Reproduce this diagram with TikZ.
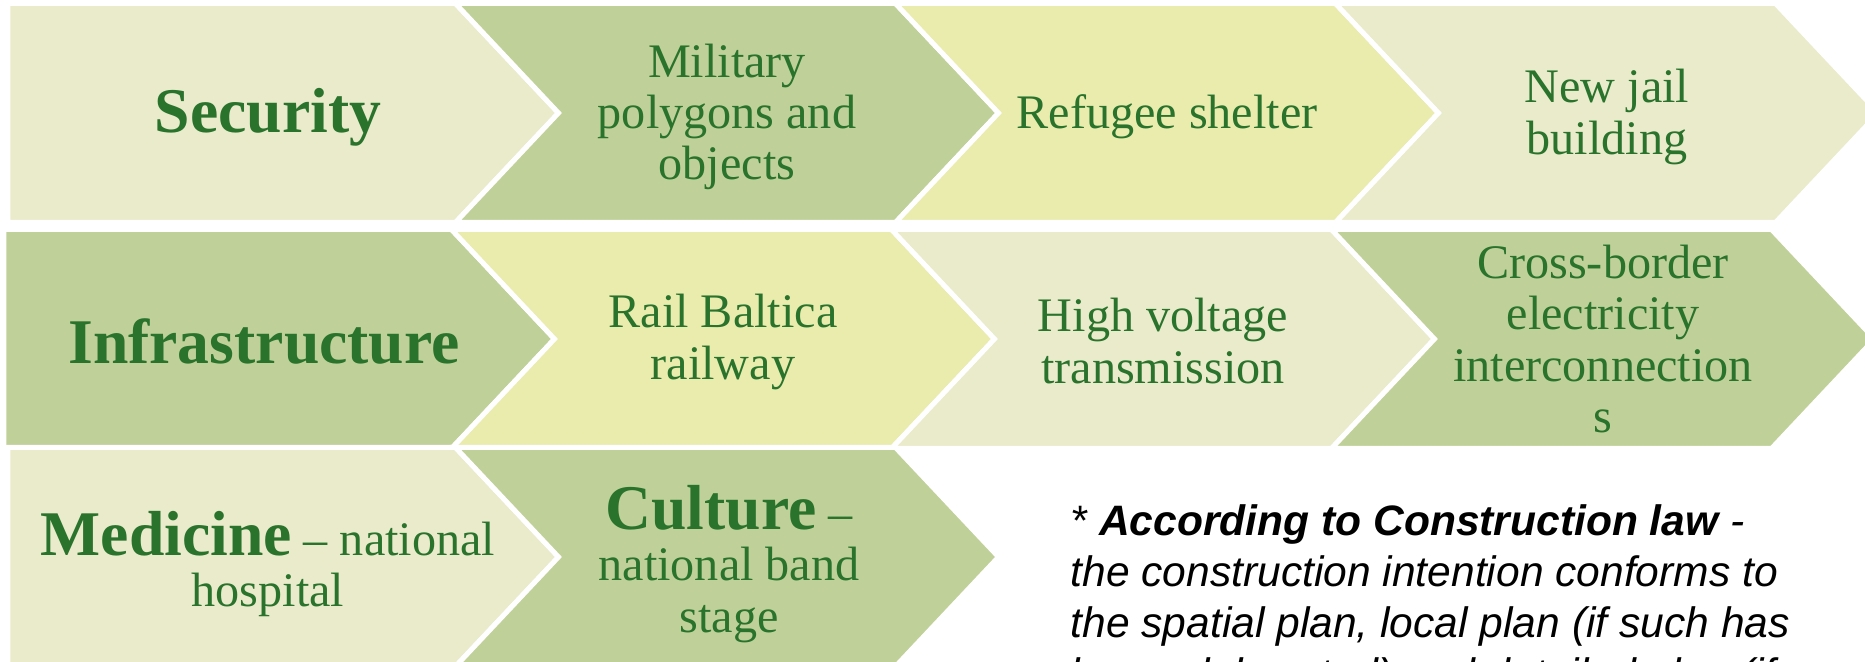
\documentclass[tikz,border=0pt]{standalone}
\usepackage{fontspec}
\setmainfont{Liberation Serif}
\newfontfamily\notefont{Liberation Sans}

\definecolor{paleleaf}{RGB}{234,235,202}
\definecolor{midleaf}{RGB}{191,209,153}
\definecolor{paleyellow}{RGB}{233,236,173}
\definecolor{leaftext}{RGB}{42,115,45}

\newcommand{\headword}[1]{{\fontsize{18.1pt}{19pt}\selectfont\bfseries #1}}

\tikzset{
  plate/.style={insert path={-- ++(447.5,0) -- ++(103,109.5) -- ++(-103,109.5) -- ++(-447.5,0) -- cycle}},
  chev/.style={insert path={-- ++(440,0) -- ++(103,109.5) -- ++(-103,109.5) -- ++(-440,0) -- ++(103,-109.5) -- cycle}}
}

\begin{document}
\begin{tikzpicture}[x=0.01cm, y=-0.01cm]
  \tikzstyle{seg}=[draw=white, line width=1.42pt, line join=miter]
  \tikzstyle{lbl}=[text=leaftext, align=center, inner sep=0pt, font=\fontsize{13.7pt}{14.6pt}\selectfont]
  \tikzstyle{note}=[anchor=north west, align=left, inner sep=0pt, font=\notefont\itshape\fontsize{12.1pt}{14.5pt}\selectfont]
  \clip (0,0) rectangle (1865,662);
  \path[seg, fill=paleleaf]   (8,3.5) [plate];
  \path[seg, fill=midleaf]    (455.5,3.5) [chev];
  \path[seg, fill=paleyellow] (895.5,3.5) [chev];
  \path[seg, fill=paleleaf]   (1335.5,3.5) [chev];
  \path[seg, fill=midleaf]    (4,229.5) [plate];
  \path[seg, fill=paleyellow] (451.5,229.5) [chev];
  \path[seg, fill=paleleaf]   (891.5,229.5) [chev];
  \path[seg, fill=midleaf]    (1331.5,229.5) [chev];
  \path[seg, fill=paleleaf]   (8,447.5) [plate];
  \path[seg, fill=midleaf]    (455.5,447.5) [chev];
  \node[lbl] (security) at (268,117) {\headword{Security}};
  \node[lbl] (military) at (727,117) {Military\\polygons and\\objects};
  \node[lbl] (refugee)  at (1167,117) {Refugee shelter};
  \node[lbl] (jail)     at (1607,117) {New jail\\building};
  \node[lbl] (infra)    at (264,341) {\headword{Infrastructure}};
  \node[lbl] (rail)     at (723,342) {Rail Baltica\\railway};
  \node[lbl] (voltage)  at (1163,341) {High voltage\\transmission};
  \node[lbl] (border)   at (1603,339) {Cross-border\\electricity\\interconnection\\s};
  \node[lbl] (medicine) at (268,564) {\headword{Medicine} -- national\\hospital};
  \node[lbl] (culture)  at (729,564) {\headword{Culture} --\\national band\\stage};
  \node[note] (law) at (1070,504) {* \textbf{According to Construction law} -\\
    the construction intention conforms to\\
    the spatial plan, local plan (if such has\\
    been elaborated) and detailed plan (if};
\end{tikzpicture}
\end{document}
